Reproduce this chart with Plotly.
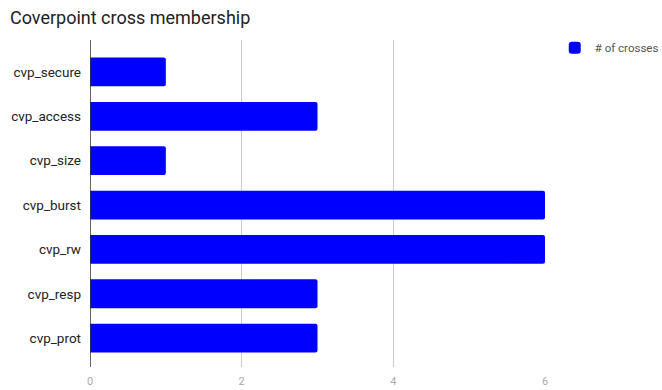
import plotly.graph_objects as go

# Coverpoints and how many crosses each one participates in
coverpoints = ["cvp_secure", "cvp_access", "cvp_size", "cvp_burst", "cvp_rw", "cvp_resp", "cvp_prot"]
cross_counts = [1, 3, 1, 6, 6, 3, 3]
x_ticks = [0, 2, 4, 6]

fig = go.Figure(
    go.Bar(
        x=cross_counts,
        y=coverpoints,
        orientation="h",
        name="# of crosses",
        marker=dict(color="#0000ff", cornerradius=2, line=dict(width=0)),
        showlegend=True,
    )
)

fig.update_layout(
    width=662,
    height=390,
    margin=dict(l=90, r=117, t=40, b=23, autoexpand=False),
    paper_bgcolor="white",
    plot_bgcolor="white",
    font=dict(family="Roboto, Arial, sans-serif", color="#222222"),
    title=dict(
        text="Coverpoint cross membership",
        x=0.015, xanchor="left", y=0.955, yanchor="middle",
        font=dict(size=18, color="#222222"),
    ),
    bargap=0.35,
    legend=dict(
        xref="container", yref="container",
        x=0.838, xanchor="left", y=0.915, yanchor="top",
        font=dict(size=11.5, color="#555555"),
        itemwidth=30,
        bgcolor="rgba(0,0,0,0)",
    ),
    xaxis=dict(
        range=[0, 6],
        tickvals=x_ticks,
        showgrid=True,
        gridcolor="#cccccc",
        gridwidth=1,
        zeroline=False,
        showline=False,
        tickfont=dict(size=11, color="#aaaaaa"),
        ticks="",
        ticklabelstandoff=6,
        automargin=False,
    ),
    yaxis=dict(
        type="category",
        categoryorder="array",
        categoryarray=coverpoints,
        range=[6.65, -0.72],
        showgrid=False,
        showline=False,
        ticks="",
        tickfont=dict(size=13.5, color="#222222"),
        ticklabelstandoff=8,
        automargin=False,
    ),
    shapes=[
        dict(type="line", xref="x", yref="paper", x0=0, x1=0, y0=0, y1=1,
             line=dict(color="#333333", width=1.5)),
    ],
)

fig.write_html("out.html")
